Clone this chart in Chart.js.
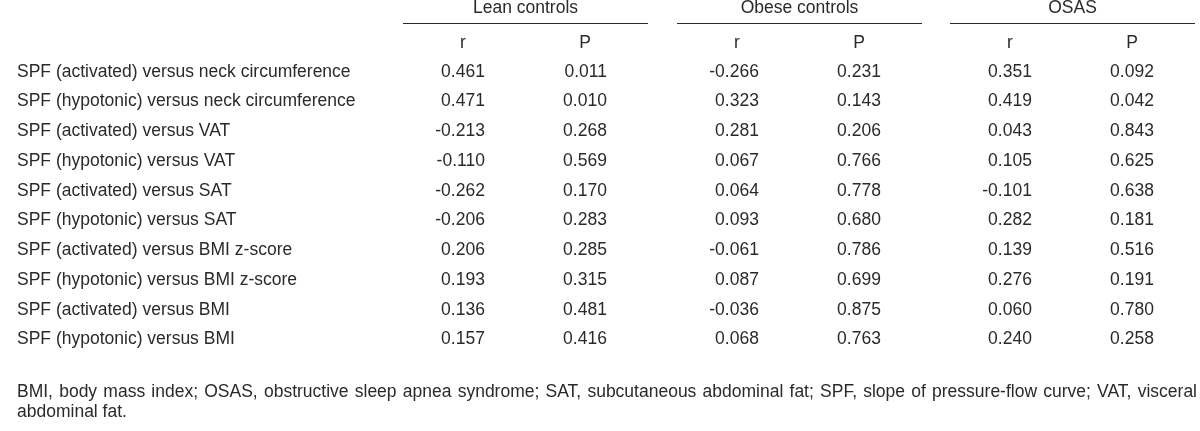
<!DOCTYPE html>
<html><head><meta charset="utf-8">
<script src="https://cdn.jsdelivr.net/npm/chart.js@4.4.1/dist/chart.umd.min.js"></script>
<style>html,body{margin:0;padding:0;background:#fff}#wrap{width:1200px;height:431px;position:relative}</style>
</head><body><div id="wrap"><canvas id="c"></canvas></div>
<script>
// ---- data ----
const categories = [
  'SPF (activated) versus neck circumference',
  'SPF (hypotonic) versus neck circumference',
  'SPF (activated) versus VAT',
  'SPF (hypotonic) versus VAT',
  'SPF (activated) versus SAT',
  'SPF (hypotonic) versus SAT',
  'SPF (activated) versus BMI z-score',
  'SPF (hypotonic) versus BMI z-score',
  'SPF (activated) versus BMI',
  'SPF (hypotonic) versus BMI'
];
const groups = ['Lean controls', 'Obese controls', 'OSAS'];
const statLabels = ['r', 'P'];
const leanR  = [0.461, 0.471, -0.213, -0.110, -0.262, -0.206, 0.206, 0.193, 0.136, 0.157];
const leanP  = [0.011, 0.010, 0.268, 0.569, 0.170, 0.283, 0.285, 0.315, 0.481, 0.416];
const obeseR = [-0.266, 0.323, 0.281, 0.067, 0.064, 0.093, -0.061, 0.087, -0.036, 0.068];
const obeseP = [0.231, 0.143, 0.206, 0.766, 0.778, 0.680, 0.786, 0.699, 0.875, 0.763];
const osasR  = [0.351, 0.419, 0.043, 0.105, -0.101, 0.282, 0.139, 0.276, 0.060, 0.240];
const osasP  = [0.092, 0.042, 0.843, 0.625, 0.638, 0.181, 0.516, 0.191, 0.780, 0.258];
const footnoteLines = [
  'BMI, body mass index; OSAS, obstructive sleep apnea syndrome; SAT, subcutaneous abdominal fat; SPF, slope of pressure-flow curve; VAT, visceral',
  'abdominal fat.'
];

// ---- layout ----
const ROW_STEP = 29.75, FIRST_ROW_PX = 71.7;
const pxRow = p => (p - FIRST_ROW_PX) / ROW_STEP;   // header/footnote heights in row units
const LAYOUT = {
  labelX: 17,
  rightX: 1197,
  groupStart: [403, 677, 950],
  groupWidth: 245,
  subOffset: [60, 182],
  groupY: pxRow(8.5), lineY: pxRow(22.7), statY: pxRow(43.3),
  footY: [pxRow(392), pxRow(412)]
};
const FONT = '17.5px "Liberation Sans", Arial, sans-serif';
const INK = '#2a2a2a';

const columns = [leanR, leanP, obeseR, obeseP, osasR, osasP];
const colX = c => LAYOUT.groupStart[Math.floor(c / 2)] + LAYOUT.subOffset[c % 2];
const datasets = columns.map((vals, c) => ({
  label: groups[Math.floor(c / 2)] + ' ' + statLabels[c % 2],
  data: vals.map((v, i) => ({ x: colX(c), y: i, v })),
  pointRadius: 0, showLine: false
}));

const tablePlugin = {
  id: 'tableText',
  afterDatasetsDraw(chart) {
    const ctx = chart.ctx, xs = chart.scales.x, ys = chart.scales.y;
    ctx.save();
    ctx.fillStyle = INK; ctx.strokeStyle = INK;
    ctx.font = FONT; ctx.textBaseline = 'middle';
    // group headers and rules
    groups.forEach((g, k) => {
      const a = LAYOUT.groupStart[k], b = a + LAYOUT.groupWidth;
      const xa = xs.getPixelForValue(a), xb = xs.getPixelForValue(b);
      ctx.textAlign = 'center';
      ctx.fillText(g, (xa + xb) / 2, ys.getPixelForValue(LAYOUT.groupY));
      const ly = Math.round(ys.getPixelForValue(LAYOUT.lineY)) + 0.5;
      ctx.lineWidth = 1.2;
      ctx.beginPath(); ctx.moveTo(xa, ly); ctx.lineTo(xb, ly); ctx.stroke();
    });
    // stat headers
    ctx.textAlign = 'center';
    columns.forEach((_, c) => {
      ctx.fillText(statLabels[c % 2], xs.getPixelForValue(colX(c)), ys.getPixelForValue(LAYOUT.statY));
    });
    // row labels
    ctx.textAlign = 'left';
    categories.forEach((lab, i) => {
      ctx.fillText(lab, xs.getPixelForValue(LAYOUT.labelX), ys.getPixelForValue(i));
    });
    // values (right aligned, positive numbers centred on column)
    const half = ctx.measureText('0.000').width / 2;
    ctx.textAlign = 'right';
    chart.data.datasets.forEach((ds, d) => {
      const meta = chart.getDatasetMeta(d);
      meta.data.forEach((el, i) => {
        ctx.fillText(ds.data[i].v.toFixed(3), el.x + half, el.y);
      });
    });
    // footnote: first line justified
    const left = xs.getPixelForValue(LAYOUT.labelX), right = xs.getPixelForValue(LAYOUT.rightX);
    ctx.textAlign = 'left';
    footnoteLines.forEach((line, li) => {
      const y = ys.getPixelForValue(LAYOUT.footY[li]);
      if (li < footnoteLines.length - 1) {
        const words = line.split(' ');
        const widths = words.map(w => ctx.measureText(w).width);
        const total = widths.reduce((s, w) => s + w, 0);
        const gap = (right - left - total) / (words.length - 1);
        let x = left;
        words.forEach((w, j) => { ctx.fillText(w, x, y); x += widths[j] + gap; });
      } else {
        ctx.fillText(line, left, y);
      }
    });
    ctx.restore();
  }
};

new Chart(document.getElementById('c'), {
  type: 'scatter',
  data: { datasets },
  options: {
    responsive: true, maintainAspectRatio: false, animation: false,
    layout: { padding: 0 },
    events: [],
    plugins: { legend: { display: false }, tooltip: { enabled: false } },
    scales: {
      x: { type: 'linear', display: false, min: 0, max: 1200 },
      y: { type: 'linear', display: false, reverse: true,
           min: pxRow(0), max: pxRow(431) }
    }
  },
  plugins: [tablePlugin]
});
</script></body></html>
